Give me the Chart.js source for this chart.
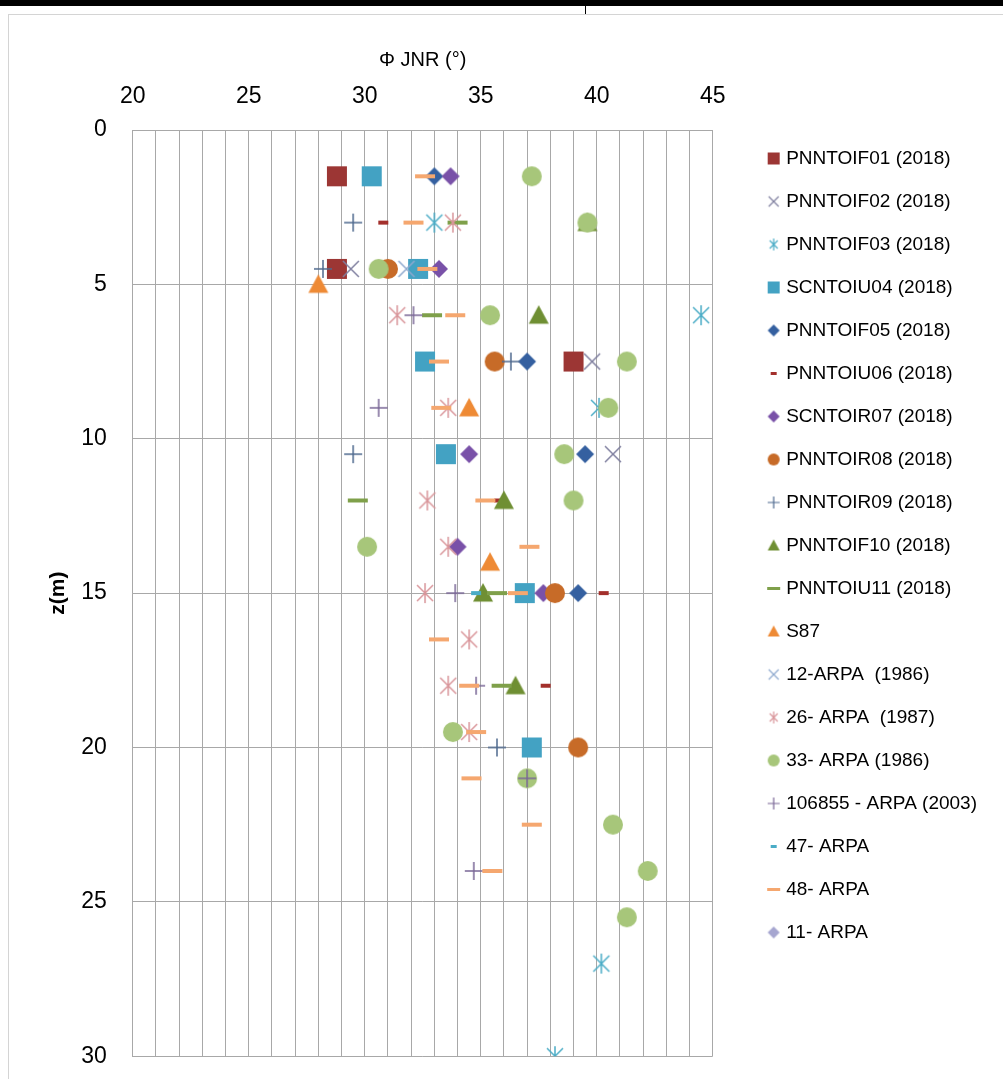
<!DOCTYPE html>
<html>
<head>
<meta charset="utf-8">
<script src="https://cdn.jsdelivr.net/npm/chart.js@4.4.0/dist/chart.umd.min.js"></script>
<style>
  html, body { margin: 0; background: #fff; overflow: hidden; }
  #wrap { position: relative; width: 1003px; height: 1079px; overflow: hidden; }
  #chart { position: absolute; left: 0; top: 0; }
  .frame { position: absolute; left: 8px; top: 14px; width: 1100px; height: 1100px; border: 1px solid #d4d4d4; }
  .bar { position: absolute; left: 0; top: 0; width: 1003px; height: 6px; background: #000; }
  .notch { position: absolute; left: 585px; top: 0; width: 1px; height: 14px; background: #000; }
</style>
</head>
<body>
<div id="wrap">
  <div class="frame"></div>
  <canvas id="chart" width="1003" height="1096"></canvas>
  <div class="bar"></div>
  <div class="notch"></div>
</div>
<script>
// series names (legend order)
const seriesNames = [
  'PNNTOIF01 (2018)', 'PNNTOIF02 (2018)', 'PNNTOIF03 (2018)', 'SCNTOIU04 (2018)',
  'PNNTOIF05 (2018)', 'PNNTOIU06 (2018)', 'SCNTOIR07 (2018)', 'PNNTOIR08 (2018)',
  'PNNTOIR09 (2018)', 'PNNTOIF10 (2018)', 'PNNTOIU11 (2018)', 'S87',
  '12-ARPA  (1986)', '26- ARPA  (1987)', '33- ARPA (1986)', '106855 - ARPA (2003)',
  '47- ARPA', '48- ARPA', '11- ARPA'
];

// friction angle (deg), one row per series
const phiValues = [
  [28.8, 28.8, 39.0],
  [29.4, 39.8, 40.7],
  [33.0, 44.5, 40.1, 40.2, 38.2],
  [30.3, 32.3, 32.6, 33.5, 36.9, 37.2],
  [33.0, 37.0, 39.5, 39.2],
  [30.8, 35.8, 40.3, 37.8],
  [33.7, 33.2, 34.5, 34.0, 37.7],
  [31.0, 35.6, 38.2, 39.2],
  [29.5, 28.2, 36.3, 29.5, 35.7],
  [39.6, 37.5, 36.0, 35.1, 36.5],
  [34.0, 32.9, 29.7, 35.7, 35.9],
  [28.0, 34.5, 35.4],
  [31.8],
  [33.8, 31.4, 33.6, 32.7, 33.6, 32.6, 34.5, 33.6, 34.5],
  [37.2, 39.6, 30.6, 35.4, 41.3, 40.5, 38.6, 39.0, 30.1, 33.8, 37.0, 40.7, 42.2, 41.3],
  [32.1, 30.6, 33.9, 34.8, 37.0, 34.7],
  [34.8],
  [32.6, 32.1, 32.7, 33.9, 33.2, 33.3, 35.2, 37.1, 36.6, 33.2, 34.5, 34.8, 34.6, 37.2, 35.5],
  []
];

// depth z (m), same layout as phiValues
const depthValues = [
  [1.5, 4.5, 7.5],
  [4.5, 7.5, 10.5],
  [3, 6, 9, 27, 30],
  [1.5, 4.5, 7.5, 10.5, 15, 20],
  [1.5, 7.5, 10.5, 15],
  [3, 12, 15, 18],
  [1.5, 4.5, 10.5, 13.5, 15],
  [4.5, 7.5, 15, 20],
  [3, 4.5, 7.5, 10.5, 20],
  [3, 6, 12, 15, 18],
  [3, 6, 12, 15, 18],
  [5, 9, 14],
  [4.5],
  [3, 6, 9, 12, 13.5, 15, 16.5, 18, 19.5],
  [1.5, 3, 4.5, 6, 7.5, 9, 10.5, 12, 13.5, 19.5, 21, 22.5, 24, 25.5],
  [6, 9, 15, 18, 21, 24],
  [15],
  [1.5, 3, 4.5, 6, 7.5, 9, 12, 13.5, 15, 16.5, 18, 19.5, 21, 22.5, 24],
  []
];

const xTicks = [20, 25, 30, 35, 40, 45];
const yTicks = [0, 5, 10, 15, 20, 25, 30];

const colors = ['#9C3634', '#7F7F9F', '#4AACC6', '#43A2C3', '#3560A0', '#A3302C', '#7951A8',
  '#C76B28', '#4F6A8F', '#6F8F33', '#7FA04A', '#EE8A35', '#8EA9CE', '#D9959A', '#A7C67A',
  '#7A6796', '#4AACC6', '#F5A76F', '#A6A6D0'];
const shapes = ['square', 'x', 'star', 'square', 'diamond', 'shortdash', 'diamond', 'circle',
  'plus', 'triangle', 'dash', 'triangle', 'x', 'star', 'circle', 'plus', 'shortdash', 'dash', 'diamond'];

// draw an Excel-like marker into a small canvas
function makeMark(shape, size, color) {
  const c = document.createElement('canvas');
  let w = size, h = size;
  if (shape === 'dash') { w = size; h = size > 14 ? 4 : 3; }
  if (shape === 'shortdash') { w = Math.round(size / 2); h = size > 14 ? 4 : 3; }
  const pad = 1;
  c.width = w + pad * 2;
  c.height = h + pad * 2;
  const g = c.getContext('2d');
  g.fillStyle = color;
  g.strokeStyle = color;
  g.lineWidth = size > 14 ? 1.5 : 1.2;
  g.translate(pad, pad);
  const s = size;
  g.beginPath();
  switch (shape) {
    case 'square':
      g.fillRect(0, 0, s, s);
      break;
    case 'circle':
      g.arc(s / 2, s / 2, s / 2, 0, Math.PI * 2);
      g.fill();
      break;
    case 'diamond':
      g.moveTo(s / 2, 0); g.lineTo(s, s / 2); g.lineTo(s / 2, s); g.lineTo(0, s / 2);
      g.closePath(); g.fill();
      break;
    case 'triangle':
      g.moveTo(s / 2, 0); g.lineTo(s, s * 0.92); g.lineTo(0, s * 0.92);
      g.closePath(); g.fill();
      break;
    case 'x':
      g.moveTo(1, 1); g.lineTo(s - 1, s - 1);
      g.moveTo(s - 1, 1); g.lineTo(1, s - 1);
      g.stroke();
      break;
    case 'star':
      g.moveTo(2, 2); g.lineTo(s - 2, s - 2);
      g.moveTo(s - 2, 2); g.lineTo(2, s - 2);
      g.moveTo(s / 2, 0); g.lineTo(s / 2, s);
      g.stroke();
      break;
    case 'plus':
      g.moveTo(0, s / 2); g.lineTo(s, s / 2);
      g.moveTo(s / 2, 0); g.lineTo(s / 2, s);
      g.stroke();
      break;
    default:
      g.fillRect(0, 0, w, h);
  }
  return c;
}

const plotSize = { square: 20, circle: 20, diamond: 18, triangle: 20, x: 18, star: 20, plus: 18, dash: 20, shortdash: 20 };
const plotMarks = shapes.map((s, i) => makeMark(s, plotSize[s], colors[i]));
const legendMarks = shapes.map((s, i) => makeMark(s, s === 'dash' ? 13 : 12, colors[i]));

Chart.defaults.font.family = '"Liberation Sans", Arial, sans-serif';
Chart.defaults.color = '#000';

const gridColor = '#a8a8a8';

const ctx = document.getElementById('chart').getContext('2d');
new Chart(ctx, {
  type: 'scatter',
  data: {
    datasets: seriesNames.map((name, i) => ({
      label: name,
      data: phiValues[i].map((x, j) => ({ x: x, y: depthValues[i][j] })),
      pointStyle: plotMarks[i],
      backgroundColor: colors[i],
      borderColor: colors[i],
      order: -i
    }))
  },
  options: {
    responsive: false,
    animation: false,
    layout: { padding: { top: 20, left: 0, right: 16, bottom: 0 } },
    plugins: {
      tooltip: { enabled: false },
      legend: {
        position: 'right',
        align: 'start',
        title: { display: true, text: '', font: { size: 10 }, padding: { top: 93, bottom: 0 } },
        labels: {
          usePointStyle: true,
          pointStyleWidth: 6,
          padding: 24,
          color: '#000',
          font: { size: 19 },
          generateLabels: () => seriesNames.map((name, i) => ({
            text: name,
            pointStyle: legendMarks[i],
            fillStyle: colors[i],
            strokeStyle: colors[i],
            lineWidth: 0,
            hidden: false,
            datasetIndex: i
          }))
        }
      }
    },
    scales: {
      x: {
        type: 'linear',
        position: 'top',
        min: 20,
        max: 45,
        grid: { color: gridColor, drawTicks: false },
        border: { color: gridColor },
        ticks: {
          stepSize: 1,
          autoSkip: false,
          maxRotation: 0,
          padding: 20,
          font: { size: 23 },
          callback: v => xTicks.includes(v) ? String(v) : ''
        },
        title: { display: true, text: 'Φ JNR (°)', font: { size: 20 }, padding: { top: 28, bottom: -9.6 } }
      },
      y: {
        type: 'linear',
        reverse: true,
        min: 0,
        max: 30,
        grid: { color: gridColor, drawTicks: false },
        border: { color: gridColor },
        ticks: {
          stepSize: 5,
          padding: 26,
          font: { size: 23 },
          callback: v => yTicks.includes(v) ? String(v) : ''
        },
        title: { display: true, text: 'z(m)', font: { size: 21, weight: 'bold' }, padding: { top: 46, bottom: -16 } }
      },
      yR: {
        type: 'linear',
        axis: 'y',
        position: 'right',
        display: false,
        afterFit: s => { s.width = 34; }
      }
    }
  }
});
</script>
</body>
</html>
